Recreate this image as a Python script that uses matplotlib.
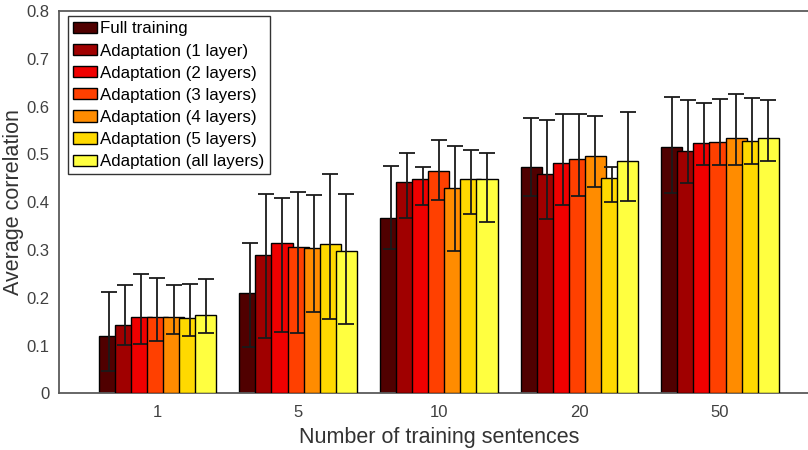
import numpy as np
import matplotlib
matplotlib.use("Agg")
import matplotlib.pyplot as plt

plt.rcParams['font.family'] = ['Liberation Sans', 'DejaVu Sans']

# groups on the x axis
groups = ['1', '5', '10', '20', '50']

series = ['Full training', 'Adaptation (1 layer)', 'Adaptation (2 layers)',
          'Adaptation (3 layers)', 'Adaptation (4 layers)', 'Adaptation (5 layers)',
          'Adaptation (all layers)']
colors = ['#500000', '#a00000', '#f00000', '#ff4000', '#ff8c00', '#ffd900', '#ffff40']

# mean correlation, one row per series, one column per group
means = [
    [0.120, 0.210, 0.366, 0.473, 0.515],
    [0.144, 0.289, 0.442, 0.459, 0.507],
    [0.161, 0.315, 0.448, 0.483, 0.523],
    [0.159, 0.307, 0.466, 0.491, 0.527],
    [0.159, 0.304, 0.429, 0.497, 0.534],
    [0.157, 0.312, 0.449, 0.450, 0.528],
    [0.164, 0.299, 0.449, 0.486, 0.534],
]
# upper end of error bars
err_hi = [
    [0.212, 0.315, 0.475, 0.576, 0.620],
    [0.227, 0.417, 0.504, 0.573, 0.613],
    [0.250, 0.409, 0.473, 0.585, 0.608],
    [0.242, 0.421, 0.530, 0.585, 0.616],
    [0.226, 0.415, 0.517, 0.580, 0.627],
    [0.228, 0.458, 0.510, 0.474, 0.617],
    [0.239, 0.418, 0.504, 0.588, 0.614],
]
# lower end of error bars
err_lo = [
    [0.047, 0.097, 0.302, 0.414, 0.419],
    [0.101, 0.116, 0.366, 0.365, 0.441],
    [0.104, 0.129, 0.394, 0.394, 0.478],
    [0.109, 0.126, 0.405, 0.412, 0.478],
    [0.125, 0.171, 0.298, 0.432, 0.478],
    [0.120, 0.155, 0.376, 0.401, 0.480],
    [0.126, 0.146, 0.358, 0.403, 0.487],
]

fig = plt.figure(figsize=(8.08, 4.5), dpi=100)
ax = fig.add_axes([0.073, 0.1256, 0.94, 0.85])

x = np.arange(1, len(groups) + 1)
step = 0.1143
width = 0.15
n = len(series)
for i in range(n):
    pos = x + (i - (n - 1) / 2) * step
    m = np.array(means[i])
    lo = m - np.array(err_lo[i])
    hi = np.array(err_hi[i]) - m
    ax.bar(pos, m, width, color=colors[i], edgecolor='black', linewidth=1.0,
           label=series[i], zorder=2 * i + 2)
    ax.errorbar(pos, m, yerr=[lo, hi], fmt='none', ecolor='#1a1a1a',
                elinewidth=1.3, capsize=6, capthick=1.3, zorder=2 * i + 3)

ax.set_xlim(0.3, 5.7)
ax.set_ylim(0, 0.8)
ax.set_xticks(x)
ax.set_xticklabels(groups)
ax.set_yticks(np.arange(0, 0.81, 0.1))
ax.set_yticklabels(['0', '0.1', '0.2', '0.3', '0.4', '0.5', '0.6', '0.7', '0.8'])
ax.tick_params(length=0, labelsize=12, colors='#404040')
ax.tick_params(axis='y', pad=7)
ax.tick_params(axis='x', pad=8)
for s in ax.spines.values():
    s.set_color('#5a5a5a')
    s.set_linewidth(1.3)

ax.set_xlabel('Number of training sentences', fontsize=15.5, color='#333333', labelpad=5)
ax.set_ylabel('Average correlation', fontsize=15.5, color='#333333')
ax.yaxis.set_label_coords(-0.046, 0.5)

leg = ax.legend(loc='upper left', bbox_to_anchor=(0.012, 0.986), borderaxespad=0,
                fontsize=12.2, handlelength=1.4, handleheight=0.65, handletextpad=0.2,
                labelspacing=0.42, borderpad=0.3, fancybox=False, framealpha=1)
leg.get_frame().set_edgecolor('#333333')
leg.get_frame().set_linewidth(1.0)
leg.set_zorder(30)

fig.savefig('out.png', dpi=100)
